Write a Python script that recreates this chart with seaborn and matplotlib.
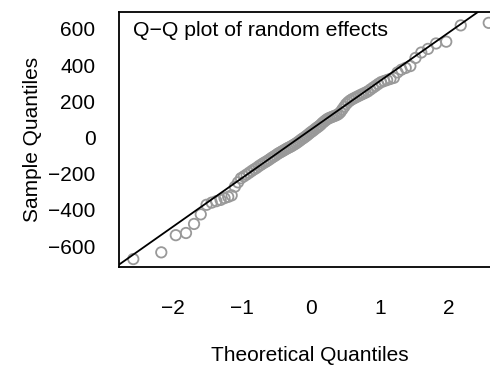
import numpy as np
import pandas as pd
import seaborn as sns
import matplotlib
matplotlib.use("Agg")
import matplotlib.pyplot as plt
from statistics import NormalDist

# Sorted sample quantiles (random effects)
sample = [
    -672, -635, -540, -528, -478, -425, -372, -360, -352, -345,
    -335, -328, -320, -272, -248, -225, -215, -205, -195, -185,
    -176, -168, -158, -150, -142, -135, -128, -120, -112, -105,
    -98, -90, -84, -78, -72, -66, -60, -55, -50, -44,
    -38, -32, -25, -18, -10, -4, 3, 10, 18, 26,
    33, 40, 48, 55, 62, 70, 80, 88, 96, 103,
    108, 112, 116, 120, 124, 130, 140, 155, 170, 185,
    196, 205, 212, 218, 224, 230, 236, 242, 248, 255,
    265, 275, 285, 296, 306, 312, 318, 324, 330, 360,
    375, 385, 395, 440, 470, 490, 520, 530, 620, 634,
]
title = "Q\u2212Q plot of random effects"
xlabel = "Theoretical Quantiles"
ylabel = "Sample Quantiles"
xticks = [-2, -1, 0, 1, 2]
yticks = [-600, -400, -200, 0, 200, 400, 600]

n = len(sample)
a = 3 / 8 if n <= 10 else 0.5
nd = NormalDist()
theo = [nd.inv_cdf((i + 1 - a) / (n + 1 - 2 * a)) for i in range(n)]
df = pd.DataFrame({"theo": theo, "sample": sorted(sample)})

# qqline through quartiles
q1, q3 = np.percentile(df["sample"], [25, 75])
t1, t3 = nd.inv_cdf(0.25), nd.inv_cdf(0.75)
slope = (q3 - q1) / (t3 - t1)
intercept = q1 - slope * t1

sns.set_theme(style="white")
plt.rcParams["font.family"] = ["Liberation Sans", "DejaVu Sans"]

FS = 15
W, H = 490, 369
fig = plt.figure(figsize=(W / 100, H / 100), dpi=100)
ax = fig.add_axes([119 / W, (H - 267) / H, (W - 119) / W + 0.02, (267 - 12) / H])

sns.scatterplot(data=df, x="theo", y="sample", ax=ax, marker="o",
                facecolors="none", edgecolor="#999999", linewidth=1.3,
                s=56, legend=False, zorder=2)
ax.axline((0, intercept), slope=slope, color="black", lw=1.3, zorder=3)

ax.set_xlim(-2.783, 2.594 + 0.02 * W / 69)
ax.set_ylim(-716, 694)
ax.set_xticks(xticks)
ax.set_yticks(yticks)
ax.set_xticklabels([str(t).replace("-", "\u2212") for t in xticks])
ax.set_yticklabels([str(t).replace("-", "\u2212") for t in yticks])
ax.tick_params(axis="both", direction="out", length=8, width=1.1,
               color="black", labelsize=FS, labelcolor="black")
ax.tick_params(axis="x", pad=15)
ax.tick_params(axis="y", pad=9)
for s in ["left", "top", "bottom"]:
    ax.spines[s].set_color("black")
    ax.spines[s].set_linewidth(1.3)
ax.spines["right"].set_visible(False)

ax.set_xlabel(xlabel, fontsize=FS, color="black", labelpad=20)
ax.set_ylabel(ylabel, fontsize=FS, color="black", labelpad=4)
ax.text(0.038, 0.927, title, transform=ax.transAxes, fontsize=15.3,
        color="black", ha="left", va="center")

fig.savefig("out.png", dpi=100)
